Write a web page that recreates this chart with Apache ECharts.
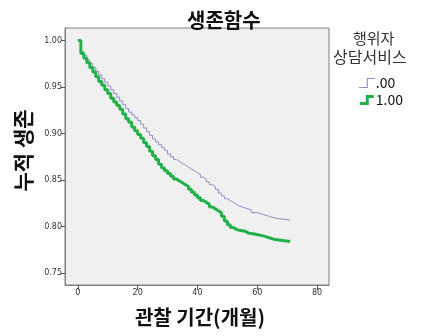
<!DOCTYPE html>
<html><head><meta charset="utf-8">
<script src="https://cdn.jsdelivr.net/npm/echarts@6/dist/echarts.min.js"></script>
<style>html,body{margin:0;padding:0;background:#fff}#c{width:424px;height:336px}</style>
</head><body><div id="c"></div>
<script>
const title = '생존함수';
const legendTitle = ['행위자', '상담서비스'];
const seriesNames = ['.00', '1.00'];
const xTicks = [0, 20, 40, 60, 80];
const yTicks = [0.75, 0.80, 0.85, 0.90, 0.95, 1.00];
const xName = '관찰 기간(개월)';
const yName = '누적 생존';

const tBlue = [0,1,2,3,4,5,6,7,8,9,10,11,12,13,14,15,16,17,18,19,20,21,22,23,24,25,26,27,28,29,30,31,32,33,34,35,36,37,38,39,40,41,42,43,44,45,46,47,48,49,50,51,52,53,54,56,58,60,62,64,66,71];
const sBlue = [1.000,0.988,0.984,0.979,0.975,0.971,0.967,0.963,0.959,0.955,0.951,0.947,0.943,0.939,0.935,0.931,0.927,0.923,0.920,0.917,0.914,0.910,0.906,0.902,0.898,0.894,0.891,0.888,0.885,0.882,0.878,0.875,0.872,0.870,0.868,0.866,0.864,0.862,0.860,0.858,0.856,0.853,0.851,0.848,0.845,0.843,0.840,0.836,0.833,0.830,0.828,0.826,0.824,0.822,0.820,0.818,0.815,0.813,0.811,0.809,0.807,0.807];

const tGreen = [0,1,2,3,4,5,6,7,8,9,10,11,12,13,14,15,16,17,18,19,20,21,22,23,24,25,26,27,28,29,30,31,32,33,34,35,36,37,38,39,40,41,42,43,44,45,46,47,48,49,50,51,52,53,54,56,57,59,62,64,66,71];
const sGreen = [1.000,0.986,0.981,0.976,0.971,0.966,0.961,0.956,0.952,0.947,0.943,0.938,0.934,0.930,0.926,0.921,0.916,0.912,0.907,0.903,0.899,0.895,0.890,0.886,0.881,0.876,0.872,0.867,0.863,0.860,0.857,0.854,0.851,0.849,0.847,0.845,0.843,0.840,0.837,0.834,0.831,0.828,0.826,0.824,0.821,0.819,0.817,0.815,0.811,0.806,0.802,0.799,0.797,0.796,0.795,0.793,0.792,0.790,0.788,0.786,0.784,0.784];

const zip = (a, b) => a.map((v, i) => [v, b[i]]);
const font = '"Noto Sans CJK KR", "Noto Sans", sans-serif';
const chart = echarts.init(document.getElementById('c'));
chart.setOption({
  animation: false,
  title: { text: title, left: 182, top: 5,
    textStyle: { fontFamily: font, fontSize: 20, fontWeight: 'bold', color: '#111' } },
  graphic: [
    { type: 'text', left: 353, top: 31, style: { text: legendTitle[0], font: '15px ' + font, fill: '#333' } },
    { type: 'text', left: 333, top: 49, style: { text: legendTitle[1], font: '16px ' + font, fill: '#333' } }
  ],
  legend: {
    orient: 'vertical', left: 354, top: 71, itemGap: 3, itemWidth: 16, itemHeight: 10,
    textStyle: { fontFamily: font, fontSize: 14, color: '#111', padding: [0, 0, 0, -4] },
    data: [
      { name: seriesNames[0], icon: 'path://M0,9 L7,9 L7,1 L14,1 L14,2 L8,2 L8,10 L0,10 Z' },
      { name: seriesNames[1], icon: 'path://M0,7 L6,7 L6,0 L14,0 L14,3 L9,3 L9,10 L0,10 Z' }
    ]
  },
  grid: { left: 65, top: 28, right: 95, bottom: 51, show: true, backgroundColor: '#f0f0f0',
    borderColor: '#808080', borderWidth: 1 },
  xAxis: {
    type: 'value', min: -4.3, max: 84,
    name: xName, nameLocation: 'middle', nameGap: 22,
    nameTextStyle: { fontFamily: font, fontSize: 20, fontWeight: 'bold', color: '#111', padding: [0, 0, 0, 6] },
    axisLine: { show: true, onZero: false, lineStyle: { color: '#808080' } },
    axisTick: { show: true, customValues: xTicks, length: 5, lineStyle: { color: '#555' } },
    axisLabel: { customValues: xTicks, fontSize: 8, color: '#333', margin: 4, fontFamily: 'DejaVu Sans' },
    splitLine: { show: false }
  },
  yAxis: {
    type: 'value', min: 0.7372, max: 1.0134,
    name: yName, nameLocation: 'middle', nameGap: 25,
    nameTextStyle: { fontFamily: font, fontSize: 21, fontWeight: 'bold', color: '#111', padding: [0, 0, 0, 12] },
    axisLine: { show: true, onZero: false, lineStyle: { color: '#808080' } },
    axisTick: { show: true, customValues: yTicks, length: 4, lineStyle: { color: '#555' } },
    axisLabel: { customValues: yTicks, fontSize: 8, color: '#333', margin: 3, fontFamily: 'DejaVu Sans',
      formatter: v => v.toFixed(2) },
    splitLine: { show: false }
  },
  series: [
    { name: seriesNames[0], type: 'line', step: 'end', data: zip(tBlue, sBlue), symbol: 'none',
      itemStyle: { color: '#8f8fc0' }, lineStyle: { color: '#8f8fc0', width: 1 } },
    { name: seriesNames[1], type: 'line', step: 'end', data: zip(tGreen, sGreen), symbol: 'none',
      itemStyle: { color: '#22b04a' }, lineStyle: { color: '#22b04a', width: 3 } }
  ]
});
</script></body></html>
